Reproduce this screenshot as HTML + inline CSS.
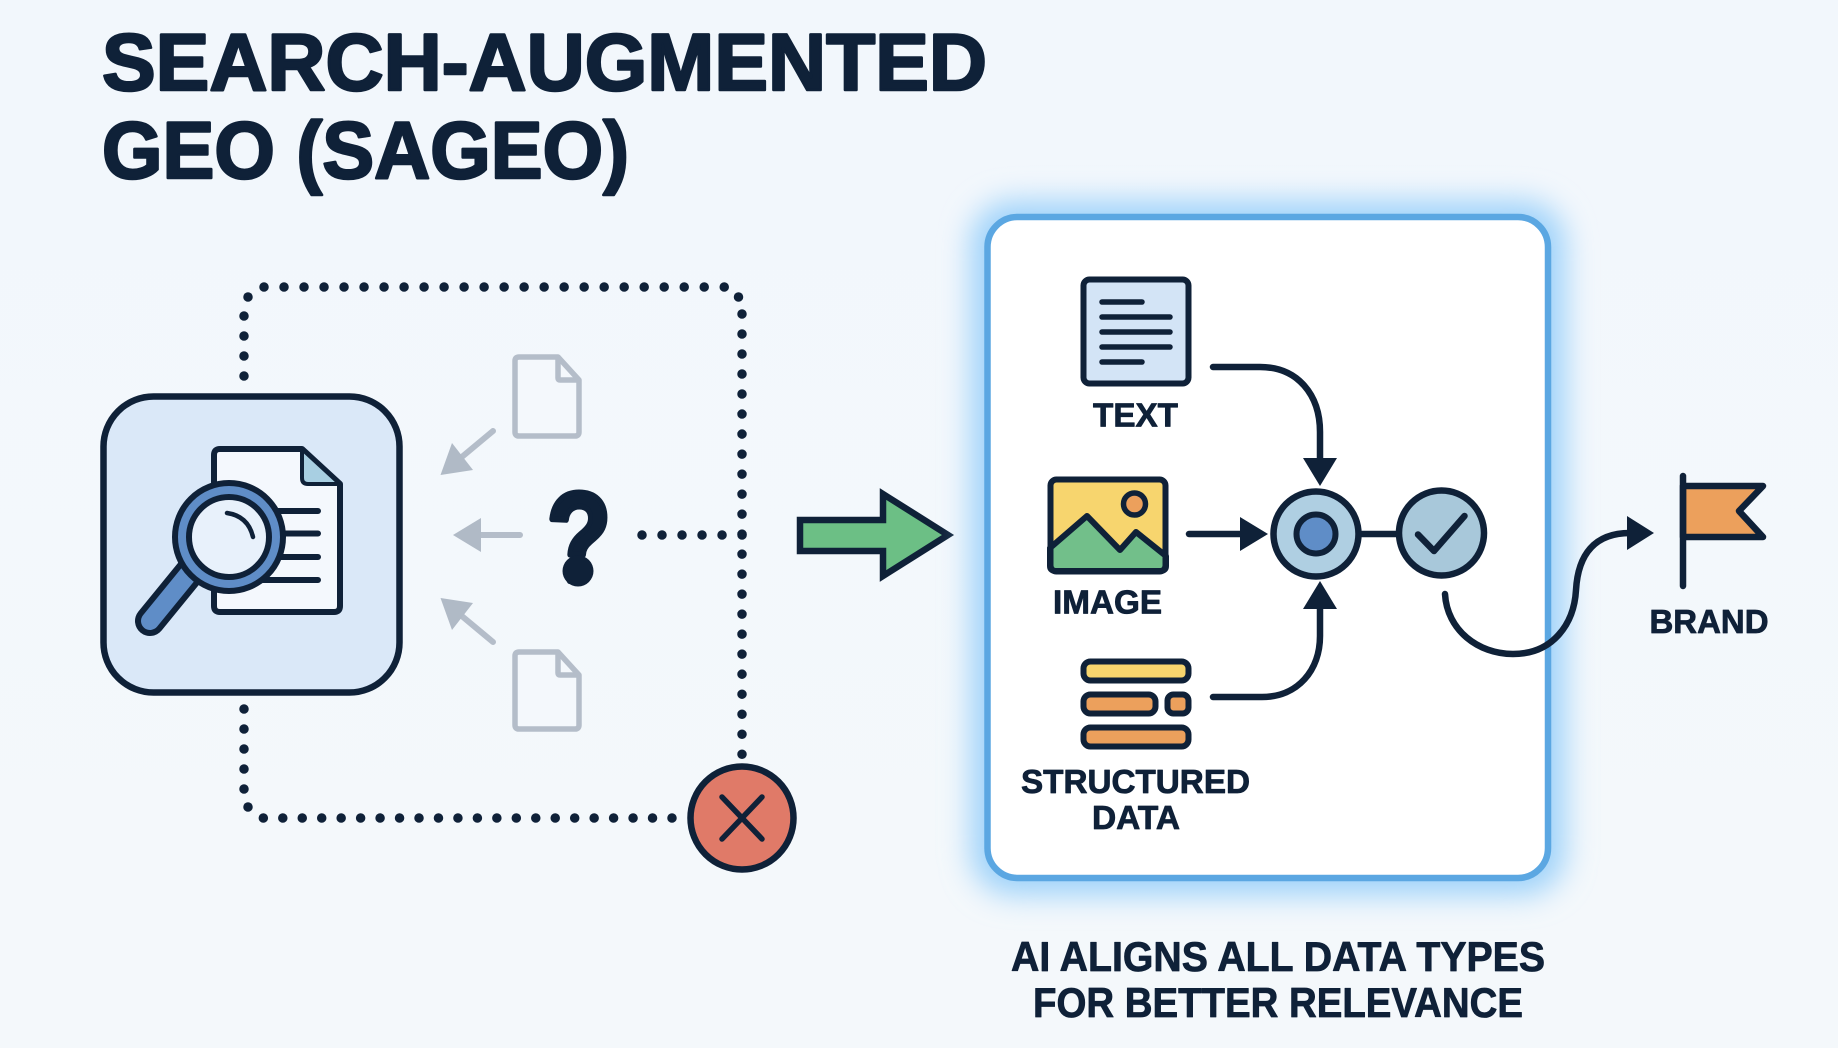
<!DOCTYPE html>
<html lang="en">
<head>
<meta charset="utf-8">
<title>Search-Augmented GEO (SAGEO)</title>
<style>
html,body{margin:0;padding:0;width:1838px;height:1048px;overflow:hidden;background:#f3f7fb}
svg{display:block}
text{font-family:"Liberation Sans",sans-serif;font-weight:700;fill:#0f2138;stroke:#0f2138;stroke-linejoin:round}
</style>
</head>
<body>
<svg width="1838" height="1048" viewBox="0 0 1838 1048" xmlns="http://www.w3.org/2000/svg">
<defs>
<filter id="glow" x="-15%" y="-15%" width="130%" height="130%"><feGaussianBlur stdDeviation="15"/></filter>
<linearGradient id="bg" x1="0" y1="0" x2="0" y2="1"><stop offset="0" stop-color="#f2f7fc"/><stop offset="1" stop-color="#f4f8fb"/></linearGradient>
</defs>
<rect width="1838" height="1048" fill="url(#bg)"/>

<!-- Title -->
<text x="102" y="90" font-size="81" stroke-width="2.500" textLength="885" lengthAdjust="spacingAndGlyphs">SEARCH-AUGMENTED</text>
<text x="102" y="178" font-size="81" stroke-width="2.500" textLength="527" lengthAdjust="spacingAndGlyphs">GEO (SAGEO)</text>

<!-- Dotted loop -->
<g fill="none" stroke="#0f2138" stroke-width="9.500" stroke-linecap="round" stroke-dasharray="0.01 20">
<path d="M244 376V310"/>
<path d="M264 287H728"/>
<path d="M742 314V758"/>
<path d="M672 818H262" stroke-dasharray="0.01 19.450"/>
<path d="M244 709V790"/>
<path d="M642 535H745"/>
</g>
<g fill="#0f2138">
<circle cx="248" cy="297" r="4.750"/>
<circle cx="738.500" cy="297" r="4.750"/>
<circle cx="248" cy="807" r="4.750"/>
</g>

<!-- Search box -->
<rect x="103.500" y="396.500" width="296" height="296" rx="50" fill="#dae8f8" stroke="#0f2138" stroke-width="6.500"/>
<path d="M214 455Q214 449 220 449H302L340 484V606Q340 612 334 612H220Q214 612 214 606Z" fill="#f4f8fd" stroke="#0f2138" stroke-width="6" stroke-linejoin="round"/>
<path d="M302 449V478Q302 484 308 484H340Z" fill="#a8cfe2" stroke="#0f2138" stroke-width="4" stroke-linejoin="round"/>
<g stroke="#0f2138" stroke-width="6" stroke-linecap="round">
<path d="M270 511H318M278 533.500H318M278 557H318M262 580H318"/>
</g>
<path d="M190 572L150 621" stroke="#0f2138" stroke-width="30" stroke-linecap="round"/>
<path d="M190 572L150 621" stroke="#5f8dc7" stroke-width="18" stroke-linecap="round"/>
<circle cx="229" cy="537" r="54" fill="#5f8dc7" stroke="#0f2138" stroke-width="6"/>
<circle cx="229" cy="537" r="40" fill="#e8f1fb" stroke="#0f2138" stroke-width="6"/>
<path d="M227 513Q248 516 253 537" fill="none" stroke="#0f2138" stroke-width="4.500" stroke-linecap="round"/>

<!-- Grey docs -->
<g fill="#f4f8fc" stroke="#b4bdc9" stroke-width="5.500" stroke-linejoin="round">
<path d="M515 361Q515 357 519 357H558L579 380V432Q579 436 575 436H519Q515 436 515 432Z"/>
<path d="M558 357V378Q558 380 560 380H579" fill="none"/>
<path d="M515 656Q515 652 519 652H558L579 675V725Q579 729 575 729H519Q515 729 515 725Z"/>
<path d="M558 652V673Q558 675 560 675H579" fill="none"/>
</g>
<!-- Grey arrows -->
<g stroke="#b4bdc9" stroke-width="6" stroke-linecap="round" fill="none">
<path d="M493 431L457 461M520 535H475M493 642L457 612"/>
</g>
<g fill="#b0bac6">
<path d="M440.500 475L452 443L473 470Z"/>
<path d="M453 535L481 518V552Z"/>
<path d="M440.500 598L473 603L452 630Z"/>
</g>

<!-- Question mark -->
<text x="547" y="581" font-size="126" stroke-width="6" textLength="64" lengthAdjust="spacingAndGlyphs">?</text>
<circle cx="578" cy="571" r="15.500" fill="#0f2138"/>

<!-- X circle -->
<circle cx="742" cy="818" r="51.500" fill="#e07a68" stroke="#0f2138" stroke-width="6.500"/>
<path d="M722 797L762 839M762 797L722 839" stroke="#0f2138" stroke-width="5.500" stroke-linecap="round"/>

<!-- Green arrow -->
<path d="M800 520H883V494L948 535L883 576V551H800Z" fill="#6cbf85" stroke="#0f2138" stroke-width="6.500" stroke-linejoin="miter"/>

<!-- Panel -->
<rect x="971" y="201" width="594" height="694" rx="42" fill="#9dd2fa" filter="url(#glow)"/>
<rect x="987.500" y="217" width="560.500" height="661" rx="30" fill="#fff" stroke="#5ba7e2" stroke-width="6.500"/>

<!-- Text icon -->
<rect x="1083.500" y="279.500" width="105" height="104" rx="6" fill="#d3e4f6" stroke="#0f2138" stroke-width="6"/>
<path d="M1102 302H1142M1102 317H1170M1102 332H1170M1102 347H1170M1102 362H1142" stroke="#0f2138" stroke-width="5.500" stroke-linecap="round"/>
<text x="1093" y="426.500" font-size="33" stroke-width="0.800" textLength="85" lengthAdjust="spacingAndGlyphs">TEXT</text>

<!-- Image icon -->
<rect x="1050.500" y="479.500" width="115" height="92" rx="6" fill="#f7d56e"/>
<path d="M1050 548L1087 516L1120 550L1136 532L1166 556V566Q1166 571 1160 571H1056Q1050 571 1050 566Z" fill="#72bf8a" stroke="#0f2138" stroke-width="6" stroke-linejoin="round"/>
<rect x="1050.500" y="479.500" width="115" height="92" rx="6" fill="none" stroke="#0f2138" stroke-width="6"/>
<circle cx="1134.500" cy="504" r="11" fill="#eca05c" stroke="#0f2138" stroke-width="5.500"/>
<text x="1053" y="613.500" font-size="33" stroke-width="0.800" textLength="109" lengthAdjust="spacingAndGlyphs">IMAGE</text>

<!-- Structured icon -->
<g stroke="#0f2138" stroke-width="6">
<rect x="1083.500" y="661.500" width="105" height="19" rx="7" fill="#f7d56e"/>
<rect x="1083.500" y="694.500" width="72" height="19" rx="7" fill="#eca05c"/>
<rect x="1167.500" y="694.500" width="21" height="19" rx="6" fill="#eca05c"/>
<rect x="1083.500" y="727.500" width="105" height="19" rx="7" fill="#eca05c"/>
</g>
<text x="1021" y="793" font-size="33" stroke-width="0.800" textLength="229" lengthAdjust="spacingAndGlyphs">STRUCTURED</text>
<text x="1092" y="829" font-size="33" stroke-width="0.800" textLength="88" lengthAdjust="spacingAndGlyphs">DATA</text>

<!-- Flow arrows -->
<g fill="none" stroke="#0f2138" stroke-width="6.500" stroke-linecap="round">
<path d="M1213 367H1260C1298 367 1320 395 1320 432V464"/>
<path d="M1189 534H1245"/>
<path d="M1213 697H1262C1298 697 1320 670 1320 636V605"/>
<path d="M1361 534H1397"/>
<path d="M1445 594C1447 630 1478 654 1513 654C1552 654 1574 625 1576 590C1578 555 1594 533 1630 533"/>
</g>
<g fill="#0f2138">
<path d="M1320 486L1303 458H1337Z"/>
<path d="M1268 534L1240 517V551Z"/>
<path d="M1320 581L1303 609H1337Z"/>
<path d="M1654 533L1627 516V550Z"/>
</g>

<!-- Nodes -->
<circle cx="1316" cy="534" r="42.500" fill="#afcfe2" stroke="#0f2138" stroke-width="6.500"/>
<circle cx="1316" cy="534" r="19.500" fill="#5f8dc7" stroke="#0f2138" stroke-width="6"/>
<circle cx="1441.500" cy="533" r="42.500" fill="#a8c8da" stroke="#0f2138" stroke-width="6.500"/>
<path d="M1418 534.500L1434 551L1464.500 516" fill="none" stroke="#0f2138" stroke-width="6.500" stroke-linecap="round" stroke-linejoin="round"/>

<!-- Brand flag -->
<path d="M1683 486H1763L1739 511L1763 537H1683Z" fill="#eca05c" stroke="#0f2138" stroke-width="6.500" stroke-linejoin="round"/>
<path d="M1683 476V586" stroke="#0f2138" stroke-width="6.500" stroke-linecap="round"/>
<text x="1649.500" y="633" font-size="33" stroke-width="0.800" textLength="119" lengthAdjust="spacingAndGlyphs">BRAND</text>

<!-- Caption -->
<text x="1011" y="971" font-size="42" stroke-width="0.800" textLength="534" lengthAdjust="spacingAndGlyphs">AI ALIGNS ALL DATA TYPES</text>
<text x="1033" y="1017" font-size="42" stroke-width="0.800" textLength="490" lengthAdjust="spacingAndGlyphs">FOR BETTER RELEVANCE</text>
</svg>
</body>
</html>
